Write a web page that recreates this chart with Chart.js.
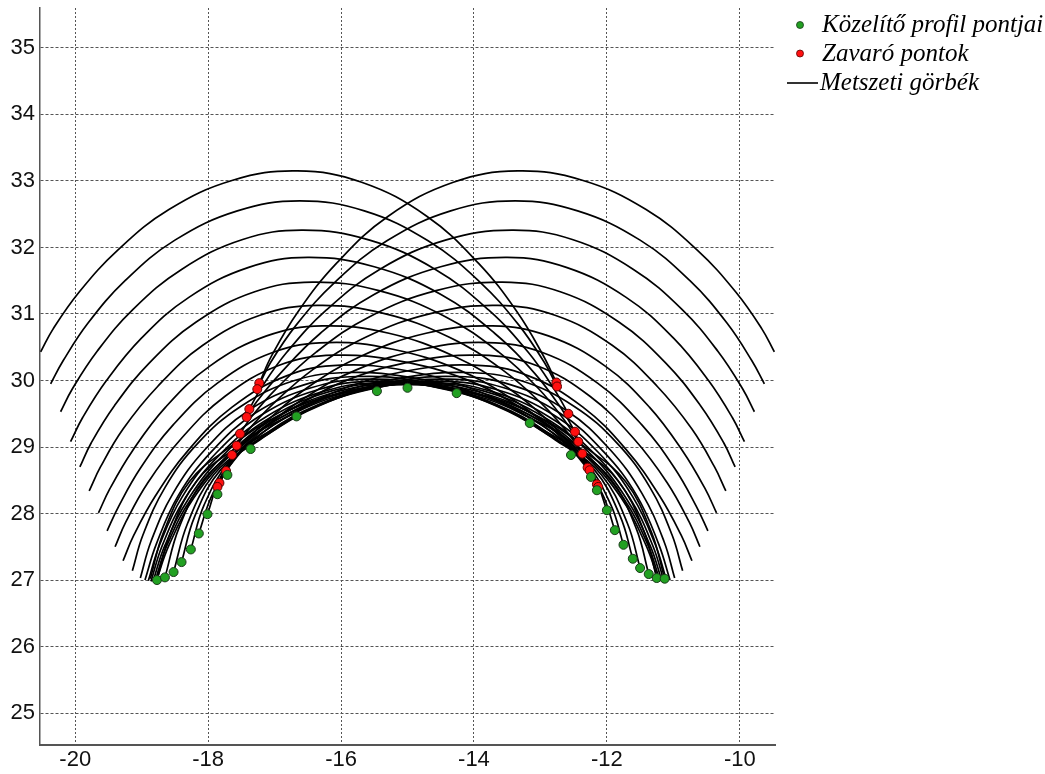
<!DOCTYPE html>
<html>
<head>
<meta charset="utf-8">
<script src="https://cdn.jsdelivr.net/npm/chart.js@4.4.1/dist/chart.umd.min.js"></script>
<style>
html,body{margin:0;padding:0;background:#ffffff;}
#wrap{width:1045px;height:774px;position:relative;}
</style>
</head>
<body>
<div id="wrap"><canvas id="c"></canvas></div>
<script>
// ---- axis values ----
const xTicks = [-20, -18, -16, -14, -12, -10];
const yTicks = [25, 26, 27, 28, 29, 30, 31, 32, 33, 34, 35];
const xRange = [-20.53, -9.47];
const yRange = [24.52, 35.6];

// ---- series labels ----
const seriesLabels = ['Közelítő profil pontjai', 'Zavaró pontok', 'Metszeti görbék'];

// ---- green points: approximated profile ----
const profilePoints = [
  [-18.77,27.00],[-18.65,27.04],[-18.52,27.12],[-18.40,27.27],[-18.26,27.46],[-18.14,27.70],
  [-18.01,27.99],[-17.86,28.29],[-17.71,28.58],[-17.36,28.97],[-16.67,29.46],
  [-15.46,29.84],[-15.00,29.89],[-14.26,29.81],
  [-13.16,29.36],[-12.54,28.88],[-12.24,28.55],[-12.15,28.35],[-12.00,28.05],[-11.88,27.75],
  [-11.75,27.53],[-11.61,27.32],[-11.50,27.18],[-11.37,27.09],[-11.25,27.03],[-11.13,27.02]
];

// ---- red points: interfering points ----
const interferingPoints = [
  [-17.23,29.96],[-17.26,29.87],[-17.38,29.57],[-17.42,29.45],[-17.52,29.20],
  [-17.57,29.02],[-17.64,28.88],[-17.73,28.64],[-17.83,28.46],[-17.86,28.40],
  [-12.76,29.97],[-12.75,29.91],[-12.58,29.50],[-12.48,29.23],[-12.43,29.08],
  [-12.37,28.90],[-12.29,28.69],[-12.26,28.65],[-12.15,28.44],[-12.13,28.40]
];

// ---- section curves, left family (peaks left of centre) ----
const leftFamily = [
  [[-20.52,30.43],[-20.33,30.78],[-19.94,31.33],[-19.36,31.96],[-18.59,32.57],[-17.63,33.01],[-16.66,33.15],[-15.69,32.98],[-14.71,32.47],[-13.93,31.76],[-13.35,31.03],[-12.96,30.38],[-12.76,29.97]],
  [[-20.37,29.95],[-20.18,30.30],[-19.81,30.86],[-19.25,31.50],[-18.50,32.11],[-17.56,32.55],[-16.62,32.70],[-15.65,32.55],[-14.69,32.10],[-13.91,31.48],[-13.33,30.84],[-12.94,30.27],[-12.75,29.91]],
  [[-20.22,29.53],[-20.04,29.88],[-19.67,30.44],[-19.13,31.07],[-18.40,31.67],[-17.48,32.12],[-16.57,32.26],[-15.57,32.11],[-14.58,31.67],[-13.78,31.06],[-13.18,30.42],[-12.78,29.85],[-12.58,29.50]],
  [[-20.07,29.08],[-19.89,29.44],[-19.53,30.00],[-19.00,30.64],[-18.29,31.25],[-17.39,31.70],[-16.50,31.85],[-15.50,31.71],[-14.49,31.29],[-13.69,30.71],[-13.08,30.10],[-12.68,29.57],[-12.48,29.23]],
  [[-19.93,28.70],[-19.76,29.06],[-19.41,29.62],[-18.88,30.27],[-18.18,30.88],[-17.31,31.33],[-16.43,31.48],[-15.43,31.35],[-14.43,30.96],[-13.63,30.43],[-13.03,29.88],[-12.63,29.39],[-12.43,29.08]],
  [[-19.79,28.34],[-19.62,28.70],[-19.28,29.27],[-18.76,29.91],[-18.08,30.53],[-17.22,30.98],[-16.36,31.13],[-15.36,31.01],[-14.37,30.65],[-13.57,30.16],[-12.97,29.64],[-12.57,29.19],[-12.37,28.90]],
  [[-19.65,28.01],[-19.48,28.37],[-19.14,28.94],[-18.64,29.60],[-17.97,30.22],[-17.12,30.67],[-16.28,30.82],[-15.28,30.71],[-14.29,30.36],[-13.49,29.89],[-12.89,29.40],[-12.49,28.96],[-12.29,28.69]],
  [[-19.52,27.74],[-19.35,28.10],[-19.02,28.68],[-18.52,29.34],[-17.86,29.96],[-17.03,30.42],[-16.20,30.57],[-15.22,30.47],[-14.23,30.16],[-13.44,29.73],[-12.85,29.29],[-12.46,28.90],[-12.26,28.65]],
  [[-19.40,27.50],[-19.24,27.87],[-18.91,28.46],[-18.41,29.12],[-17.75,29.76],[-16.93,30.23],[-16.10,30.38],[-15.11,30.29],[-14.13,30.02],[-13.34,29.62],[-12.74,29.22],[-12.35,28.77],[-12.15,28.44]],
  [[-19.28,27.29],[-19.12,27.67],[-18.79,28.27],[-18.30,28.95],[-17.64,29.60],[-16.82,30.07],[-16.00,30.23],[-15.03,30.15],[-14.07,29.89],[-13.29,29.52],[-12.71,29.13],[-12.32,28.71],[-12.13,28.40]],
  [[-19.14,27.14],[-18.98,27.68],[-18.65,28.39],[-18.16,29.05],[-17.51,29.61],[-16.70,30.00],[-15.88,30.12],[-14.91,30.04],[-13.94,29.80],[-13.16,29.44],[-12.58,29.09],[-12.19,28.55],[-12.00,28.05]],
  [[-19.02,27.03],[-18.86,27.58],[-18.53,28.30],[-18.04,28.97],[-17.39,29.55],[-16.57,29.93],[-15.75,30.06],[-14.78,29.98],[-13.82,29.70],[-13.04,29.30],[-12.46,28.91],[-12.07,28.30],[-11.88,27.75]],
  [[-18.95,27.00],[-18.78,27.54],[-18.45,28.27],[-17.95,28.93],[-17.29,29.51],[-16.45,29.89],[-15.62,30.02],[-14.65,29.93],[-13.69,29.63],[-12.91,29.20],[-12.33,28.78],[-11.94,28.13],[-11.75,27.53]],
  [[-18.90,26.99],[-18.73,27.53],[-18.39,28.25],[-17.88,28.91],[-17.20,29.48],[-16.35,29.86],[-15.50,29.99],[-14.53,29.89],[-13.56,29.58],[-12.78,29.11],[-12.19,28.66],[-11.80,27.96],[-11.61,27.32]],
  [[-18.86,26.98],[-18.69,27.52],[-18.34,28.24],[-17.82,28.89],[-17.12,29.46],[-16.25,29.84],[-15.38,29.97],[-14.41,29.87],[-13.44,29.54],[-12.66,29.05],[-12.08,28.58],[-11.69,27.85],[-11.50,27.18]],
  [[-18.83,26.98],[-18.65,27.52],[-18.29,28.23],[-17.76,28.89],[-17.05,29.45],[-16.15,29.84],[-15.26,29.96],[-14.29,29.85],[-13.32,29.52],[-12.54,29.01],[-11.95,28.53],[-11.56,27.78],[-11.37,27.09]],
  [[-18.80,26.98],[-18.62,27.52],[-18.25,28.23],[-17.70,28.88],[-16.97,29.45],[-16.06,29.83],[-15.14,29.95],[-14.17,29.84],[-13.20,29.50],[-12.42,28.99],[-11.83,28.49],[-11.44,27.73],[-11.25,27.03]],
  [[-18.78,26.99],[-18.59,27.52],[-18.22,28.23],[-17.66,28.88],[-16.91,29.44],[-15.98,29.82],[-15.04,29.94],[-14.06,29.83],[-13.09,29.49],[-12.30,28.98],[-11.72,28.48],[-11.33,27.72],[-11.13,27.02]]
];

// ---- section curves, right family (peaks right of centre) ----
const rightFamily = [
  [[-17.23,29.96],[-17.04,30.38],[-16.65,31.03],[-16.07,31.76],[-15.29,32.47],[-14.31,32.98],[-13.34,33.15],[-12.37,33.01],[-11.41,32.57],[-10.64,31.96],[-10.06,31.33],[-9.67,30.78],[-9.48,30.43]],
  [[-17.26,29.87],[-17.06,30.27],[-16.67,30.84],[-16.09,31.48],[-15.31,32.10],[-14.35,32.55],[-13.38,32.70],[-12.44,32.55],[-11.50,32.11],[-10.75,31.50],[-10.19,30.86],[-9.82,30.30],[-9.63,29.95]],
  [[-17.38,29.57],[-17.20,29.89],[-16.82,30.42],[-16.22,31.06],[-15.42,31.67],[-14.43,32.11],[-13.43,32.26],[-12.52,32.12],[-11.60,31.67],[-10.87,31.07],[-10.33,30.44],[-9.96,29.88],[-9.78,29.53]],
  [[-17.42,29.45],[-17.27,29.68],[-16.92,30.10],[-16.31,30.71],[-15.51,31.29],[-14.50,31.71],[-13.50,31.85],[-12.61,31.70],[-11.71,31.25],[-11.00,30.64],[-10.47,30.00],[-10.11,29.44],[-9.93,29.08]],
  [[-17.52,29.20],[-17.35,29.45],[-16.97,29.88],[-16.37,30.43],[-15.57,30.96],[-14.57,31.35],[-13.57,31.48],[-12.69,31.33],[-11.82,30.88],[-11.12,30.27],[-10.59,29.62],[-10.24,29.06],[-10.07,28.70]],
  [[-17.57,29.02],[-17.40,29.25],[-17.03,29.64],[-16.43,30.16],[-15.63,30.65],[-14.64,31.01],[-13.64,31.13],[-12.78,30.98],[-11.92,30.53],[-11.24,29.91],[-10.72,29.27],[-10.38,28.70],[-10.21,28.34]],
  [[-17.64,28.88],[-17.47,29.06],[-17.11,29.40],[-16.51,29.89],[-15.71,30.36],[-14.72,30.71],[-13.72,30.82],[-12.88,30.67],[-12.03,30.22],[-11.36,29.60],[-10.86,28.94],[-10.52,28.37],[-10.35,28.01]],
  [[-17.73,28.64],[-17.54,28.90],[-17.15,29.29],[-16.56,29.73],[-15.77,30.16],[-14.78,30.47],[-13.80,30.57],[-12.97,30.42],[-12.14,29.96],[-11.48,29.34],[-10.98,28.68],[-10.65,28.10],[-10.48,27.74]],
  [[-17.83,28.46],[-17.65,28.77],[-17.26,29.22],[-16.66,29.62],[-15.87,30.02],[-14.89,30.29],[-13.90,30.38],[-13.07,30.23],[-12.25,29.76],[-11.59,29.12],[-11.09,28.46],[-10.76,27.87],[-10.60,27.50]],
  [[-17.86,28.40],[-17.68,28.71],[-17.29,29.13],[-16.71,29.52],[-15.93,29.89],[-14.97,30.15],[-14.00,30.23],[-13.18,30.07],[-12.36,29.60],[-11.70,28.95],[-11.21,28.27],[-10.88,27.67],[-10.72,27.29]],
  [[-18.01,27.99],[-17.81,28.55],[-17.42,29.09],[-16.84,29.44],[-16.06,29.80],[-15.09,30.04],[-14.12,30.12],[-13.30,30.00],[-12.49,29.61],[-11.84,29.05],[-11.35,28.39],[-11.02,27.68],[-10.86,27.14]],
  [[-18.14,27.70],[-17.93,28.30],[-17.54,28.91],[-16.96,29.30],[-16.18,29.70],[-15.22,29.98],[-14.25,30.06],[-13.43,29.93],[-12.61,29.55],[-11.96,28.97],[-11.47,28.30],[-11.14,27.58],[-10.98,27.03]],
  [[-18.26,27.46],[-18.06,28.13],[-17.67,28.78],[-17.09,29.20],[-16.31,29.63],[-15.35,29.93],[-14.38,30.02],[-13.55,29.89],[-12.71,29.51],[-12.05,28.93],[-11.55,28.27],[-11.22,27.54],[-11.05,27.00]],
  [[-18.40,27.27],[-18.20,27.96],[-17.81,28.66],[-17.22,29.11],[-16.44,29.58],[-15.47,29.89],[-14.50,29.99],[-13.65,29.86],[-12.80,29.48],[-12.12,28.91],[-11.61,28.25],[-11.27,27.53],[-11.10,26.99]],
  [[-18.52,27.12],[-18.31,27.85],[-17.92,28.58],[-17.34,29.05],[-16.56,29.54],[-15.59,29.87],[-14.62,29.97],[-13.75,29.84],[-12.88,29.46],[-12.18,28.89],[-11.66,28.24],[-11.31,27.52],[-11.14,26.98]],
  [[-18.65,27.04],[-18.44,27.78],[-18.05,28.53],[-17.46,29.01],[-16.68,29.52],[-15.71,29.85],[-14.74,29.96],[-13.85,29.84],[-12.95,29.45],[-12.24,28.89],[-11.71,28.23],[-11.35,27.52],[-11.17,26.98]],
  [[-18.77,27.00],[-18.56,27.73],[-18.17,28.49],[-17.58,28.99],[-16.80,29.50],[-15.83,29.84],[-14.86,29.95],[-13.94,29.83],[-13.03,29.45],[-12.30,28.88],[-11.75,28.23],[-11.38,27.52],[-11.20,26.98]],
  [[-18.87,27.02],[-18.67,27.72],[-18.28,28.48],[-17.70,28.98],[-16.91,29.49],[-15.94,29.83],[-14.96,29.94],[-14.02,29.82],[-13.09,29.44],[-12.34,28.88],[-11.78,28.23],[-11.41,27.52],[-11.22,26.99]]
];

// ---- build datasets ----
const toXY = arr => arr.map(p => ({x: p[0], y: p[1]}));

const datasets = [
  {
    label: seriesLabels[0],
    data: toXY(profilePoints),
    showLine: false,
    pointRadius: 4.5,
    pointBackgroundColor: '#22a022',
    pointBorderColor: '#1a3a1a',
    pointBorderWidth: 1,
    backgroundColor: '#22a022',
    borderColor: '#1a3a1a'
  },
  {
    label: seriesLabels[1],
    data: toXY(interferingPoints),
    showLine: false,
    pointRadius: 4.5,
    pointBackgroundColor: '#ff1010',
    pointBorderColor: '#5a0000',
    pointBorderWidth: 1,
    backgroundColor: '#ff1010',
    borderColor: '#5a0000'
  }
];
leftFamily.concat(rightFamily).forEach(arc => {
  datasets.push({
    label: seriesLabels[2],
    data: toXY(arc),
    borderColor: '#000000',
    borderWidth: 1.7,
    pointRadius: 0,
    fill: false,
    tension: 0.4
  });
});

// ---- legend drawn at the top right ----
const sideLegend = {
  id: 'sideLegend',
  afterDraw(chart) {
    const ctx = chart.ctx;
    const ds = chart.data.datasets;
    ctx.save();
    ctx.font = 'italic 25px "Liberation Serif", "Times New Roman", serif';
    ctx.textBaseline = 'alphabetic';
    const rows = [
      {d: ds[0], cy: 25, kind: 'point'},
      {d: ds[1], cy: 53.5, kind: 'point'},
      {d: ds[2], cy: 83, kind: 'line'}
    ];
    rows.forEach(r => {
      if (r.kind === 'point') {
        ctx.beginPath();
        ctx.arc(800, r.cy, 3.5, 0, Math.PI * 2);
        ctx.fillStyle = r.d.backgroundColor;
        ctx.fill();
        ctx.lineWidth = 0.8;
        ctx.strokeStyle = r.d.borderColor;
        ctx.stroke();
        ctx.fillStyle = '#000';
        ctx.fillText(r.d.label, 822, r.cy + 7);
      } else {
        ctx.beginPath();
        ctx.moveTo(787, r.cy);
        ctx.lineTo(818, r.cy);
        ctx.lineWidth = 1.6;
        ctx.strokeStyle = '#000';
        ctx.stroke();
        ctx.fillStyle = '#000';
        ctx.fillText(r.d.label, 820, r.cy + 7);
      }
    });
    ctx.restore();
  }
};

const tickFont = {family: '"Liberation Sans", Arial, sans-serif', size: 22};

new Chart(document.getElementById('c'), {
  type: 'line',
  data: {datasets: datasets},
  options: {
    responsive: true,
    maintainAspectRatio: false,
    animation: false,
    events: [],
    layout: {padding: {left: 0, right: 270, top: 8, bottom: 0}},
    plugins: {legend: {display: false}, tooltip: {enabled: false}},
    scales: {
      x: {
        type: 'linear',
        min: xRange[0],
        max: xRange[1],
        afterBuildTicks: s => { s.ticks = xTicks.map(v => ({value: v})); },
        afterFit: s => { s.height = 29; s.paddingLeft = 0; s.paddingRight = 0; },
        grid: {color: '#555', lineWidth: 1, drawTicks: false},
        border: {display: true, color: '#555', width: 2, dash: [2, 2]},
        ticks: {font: tickFont, color: '#111', padding: 2, maxRotation: 0, autoSkip: false,
                callback: v => String(v)}
      },
      y: {
        type: 'linear',
        min: yRange[0],
        max: yRange[1],
        afterBuildTicks: s => { s.ticks = yTicks.map(v => ({value: v})); },
        afterFit: s => { s.width = 40; s.paddingTop = 0; s.paddingBottom = 0; },
        grid: {color: '#555', lineWidth: 1, drawTicks: false},
        border: {display: true, color: '#555', width: 1.5, dash: [3, 2]},
        ticks: {font: tickFont, color: '#111', padding: 5, autoSkip: false,
                callback: v => String(v)}
      }
    }
  },
  plugins: [sideLegend]
});
</script>
</body>
</html>
